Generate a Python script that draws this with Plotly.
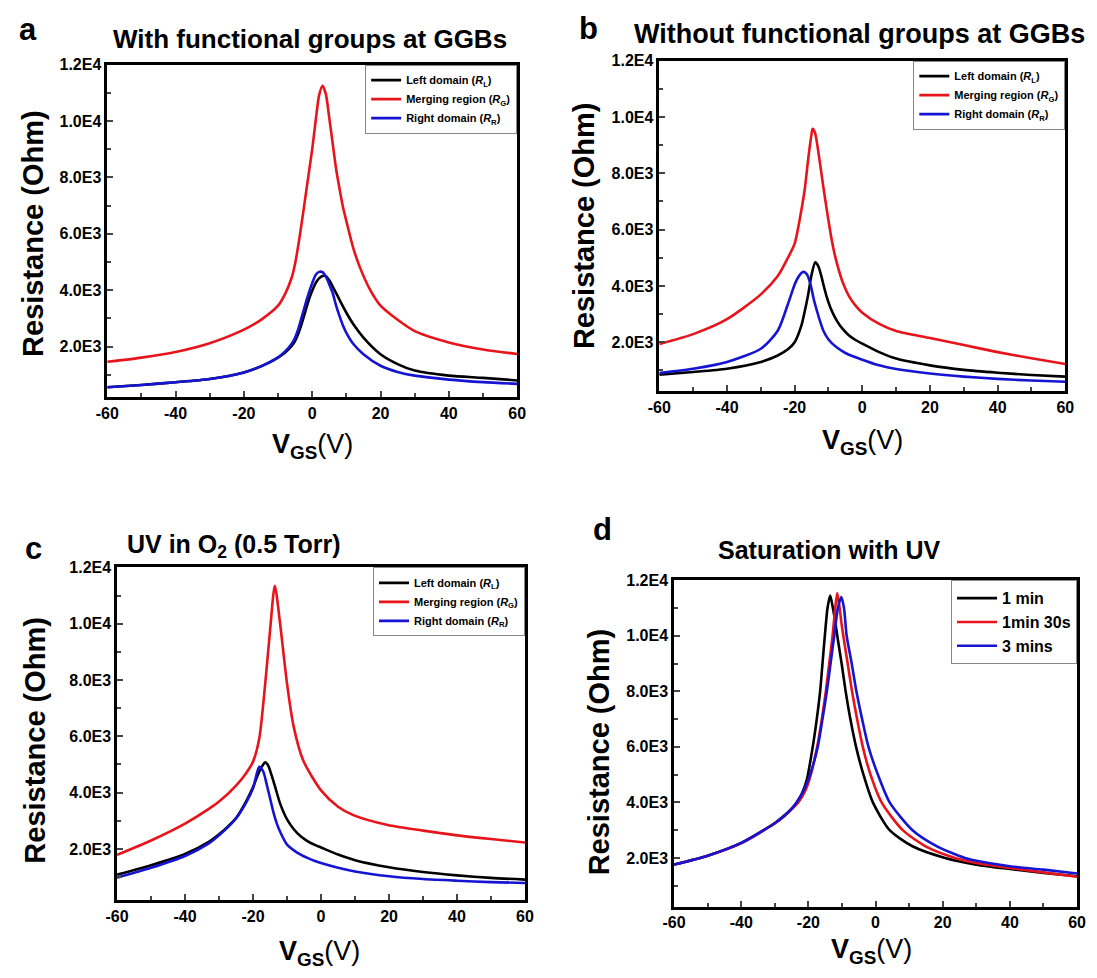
import plotly.graph_objects as go

# ---------------- data ----------------
# Panel a: With functional groups at GGBs
a_red_x = [-60, -50, -40, -30, -20, -15, -10, -8, -6, -5, -4, -3, -2, -1, 0, 1, 2, 3, 4, 5, 6, 7, 8, 9, 10, 12, 14, 17, 20, 25, 30, 40, 50, 60]
a_red_y = [1460, 1610, 1810, 2120, 2600, 2950, 3450, 3850, 4450, 4950, 5650, 6450, 7300, 8150, 9000, 10000, 10900, 11250, 10950, 10100, 9200, 8300, 7600, 6950, 6450, 5500, 4800, 4000, 3450, 2950, 2550, 2150, 1900, 1740]
a_blk_x = [-60, -50, -40, -30, -20, -15, -10, -8, -6, -5, -4, -3, -2, -1, 0, 1, 2, 3, 4, 5, 6, 7, 8, 9, 10, 12, 15, 20, 25, 30, 40, 50, 60]
a_blk_y = [560, 640, 735, 850, 1085, 1300, 1610, 1780, 2020, 2200, 2480, 2840, 3250, 3660, 3980, 4250, 4420, 4500, 4500, 4350, 4130, 3900, 3660, 3430, 3200, 2800, 2320, 1730, 1380, 1150, 970, 890, 800]
a_blu_x = [-60, -50, -40, -30, -20, -15, -10, -8, -6, -5, -4, -3, -2, -1, 0, 1, 2, 3, 4, 5, 6, 7, 8, 9, 10, 12, 15, 20, 25, 30, 40, 50, 60]
a_blu_y = [560, 640, 735, 850, 1085, 1300, 1620, 1820, 2100, 2320, 2650, 3080, 3500, 3900, 4250, 4540, 4650, 4640, 4480, 4200, 3900, 3450, 3080, 2750, 2490, 2100, 1730, 1320, 1100, 970, 830, 740, 680]

# Panel b: Without functional groups at GGBs
b_red_x = [-60, -50, -40, -30, -25, -22, -20, -18, -17, -16, -15, -14.7, -14, -13.5, -12.5, -11.5, -10.5, -9.5, -8.5, -7.5, -6.5, -5.5, -4, -2, 0, 5, 10, 20, 30, 40, 50, 60]
b_red_y = [1940, 2290, 2820, 3700, 4350, 5000, 5500, 6700, 7450, 8500, 9400, 9580, 9450, 9150, 8350, 7500, 6700, 5950, 5300, 4800, 4380, 4040, 3650, 3300, 3050, 2650, 2400, 2150, 1900, 1650, 1430, 1230]
b_blk_x = [-60, -50, -40, -30, -25, -22, -20, -18, -17, -16, -15, -13.9, -13, -12, -11.5, -10.5, -9.5, -8.5, -7.6, -6, -4, -2, 0, 5, 10, 20, 30, 40, 50, 60]
b_blk_y = [850, 945, 1060, 1300, 1530, 1750, 2000, 2600, 3110, 3700, 4400, 4840, 4700, 4300, 4050, 3600, 3250, 2980, 2780, 2500, 2250, 2080, 1950, 1650, 1420, 1180, 1020, 920, 840, 780]
b_blu_x = [-60, -50, -40, -30, -25, -22, -20, -19, -18, -17.3, -16.3, -15.3, -14.3, -13.4, -12.5, -11.5, -10, -7.6, -5, 0, 5, 10, 20, 30, 40, 50, 60]
b_blu_y = [910, 1060, 1300, 1770, 2410, 3350, 4050, 4300, 4460, 4500, 4400, 4050, 3500, 3110, 2750, 2410, 2100, 1820, 1620, 1380, 1180, 1050, 890, 780, 700, 640, 600]

# Panel c: UV in O2 (0.5 Torr)
c_red_x = [-60, -50, -40, -33, -30, -25, -22, -20, -18.2, -16.4, -15, -13.6, -12.1, -10.1, -8.1, -5.2, 0, 5, 9.5, 19.6, 30, 39.5, 50, 60]
c_red_y = [1790, 2300, 2900, 3420, 3680, 4250, 4700, 5100, 5900, 7900, 9750, 11350, 10060, 7960, 6370, 5130, 4080, 3500, 3200, 2850, 2650, 2490, 2350, 2230]
c_blk_x = [-60, -50, -40, -33, -30, -25, -22, -20, -18, -17, -16.4, -15.5, -14.5, -13.5, -12, -10, -8, -6, -4, -2, 0, 5, 10, 20, 30, 40, 50, 60]
c_blk_y = [1085, 1420, 1820, 2250, 2520, 3100, 3700, 4200, 4800, 5000, 5080, 4950, 4600, 4200, 3600, 3050, 2700, 2450, 2280, 2150, 2050, 1800, 1600, 1350, 1180, 1060, 970, 910]
c_blu_x = [-60, -50, -40, -33, -30, -25, -22, -20, -18.2, -17, -16, -15, -14, -13, -12, -10, -8, -6, -4, -2, 0, 5, 10, 20, 30, 40, 50, 60]
c_blu_y = [980, 1330, 1750, 2200, 2480, 3080, 3650, 4150, 4920, 4750, 4300, 3800, 3300, 2900, 2600, 2150, 1950, 1800, 1680, 1580, 1500, 1330, 1200, 1030, 930, 870, 820, 790]

# Panel d: Saturation with UV
d_k_x = [-60, -50, -40, -30, -27, -25, -23.5, -22, -20.5, -18.7, -17.5, -16.5, -15.8, -15.1, -14.3, -13.5, -12.7, -12, -11.4, -10.1, -8.9, -7.5, -5.8, -3.6, -0.8, 4.2, 11, 20.7, 30, 40, 50, 60]
d_k_y = [1760, 2080, 2540, 3260, 3550, 3780, 4000, 4300, 4800, 6000, 7000, 8000, 9000, 10000, 11000, 11450, 11000, 10500, 10000, 9000, 8000, 7000, 6000, 5000, 4000, 3000, 2420, 2000, 1760, 1600, 1460, 1340]
d_r_x = [-60, -50, -40, -30, -27, -25, -23, -21, -19.5, -17.4, -16, -14.8, -13.8, -12.8, -12, -11.4, -10.7, -10.2, -9.6, -8.3, -7, -5.5, -3.8, -1.5, 1.8, 8.1, 14.9, 23.7, 30, 40, 50, 60]
d_r_y = [1760, 2080, 2530, 3240, 3520, 3750, 4000, 4400, 4900, 6000, 7000, 8000, 9000, 10000, 11000, 11540, 11000, 10500, 10000, 9000, 8000, 7000, 6000, 5000, 4000, 3000, 2420, 2000, 1820, 1640, 1480, 1320]
d_b_x = [-60, -50, -40, -30, -27, -25, -23.5, -21.5, -19.5, -17.2, -15.8, -14.5, -13.4, -12.3, -11.2, -10.2, -9.4, -8.6, -7.1, -5.7, -4, -2.1, 0.7, 4.2, 11, 18.3, 26.6, 30, 40, 50, 60]
d_b_y = [1760, 2080, 2540, 3250, 3540, 3770, 4000, 4400, 5000, 6000, 7000, 8000, 9000, 10000, 11000, 11400, 11000, 10000, 9000, 8000, 7000, 6000, 5000, 4000, 3000, 2420, 2000, 1900, 1700, 1580, 1440]

x_tickvals = [-60, -40, -20, 0, 20, 40, 60]
x_ticktext = ["-60", "-40", "-20", "0", "20", "40", "60"]
y_tickvals = [2000, 4000, 6000, 8000, 10000, 12000]
y_ticktext = ["2.0E3", "4.0E3", "6.0E3", "8.0E3", "1.0E4", "1.2E4"]

names_abc = ["<b>Left domain (<i>R</i><sub>L</sub>)</b>",
             "<b>Merging region (<i>R</i><sub>G</sub>)</b>",
             "<b>Right domain (<i>R</i><sub>R</sub>)</b>"]
names_d = ["<b>1 min</b>", "<b>1min 30s</b>", "<b>3 mins</b>"]

BLACK, RED, BLUE = "#000000", "#e8141c", "#1414d2"
FONT = "Arial, Liberation Sans, sans-serif"

# figure sized to the window minus the page's default 8px body margin
W, H = 1081, 962
OX, OY = 8, 8

def px(xp):
    return (xp - OX) / W

def py(yp):
    return 1 - (yp - OY) / H

# panel boxes in window pixels: (left, right, top, bottom)
boxes = {
    1: (97, 515, 57, 392),
    2: (660, 1074, 53, 386),
    3: (107, 523, 564, 899),
    4: (675, 1086, 577, 906),
}
yranges = {1: [220, 12000], 2: [275, 12000], 3: [200, 12000], 4: [250, 12000]}

fig = go.Figure()

panels = {
    1: [(a_blk_x, a_blk_y, BLACK, names_abc[0]), (a_red_x, a_red_y, RED, names_abc[1]), (a_blu_x, a_blu_y, BLUE, names_abc[2])],
    2: [(b_blk_x, b_blk_y, BLACK, names_abc[0]), (b_red_x, b_red_y, RED, names_abc[1]), (b_blu_x, b_blu_y, BLUE, names_abc[2])],
    3: [(c_blk_x, c_blk_y, BLACK, names_abc[0]), (c_red_x, c_red_y, RED, names_abc[1]), (c_blu_x, c_blu_y, BLUE, names_abc[2])],
    4: [(d_k_x, d_k_y, BLACK, names_d[0]), (d_r_x, d_r_y, RED, names_d[1]), (d_b_x, d_b_y, BLUE, names_d[2])],
}

for i, traces in panels.items():
    xa = "x" if i == 1 else f"x{i}"
    ya = "y" if i == 1 else f"y{i}"
    lg = "legend" if i == 1 else f"legend{i}"
    for xs, ys, col, nm in traces:
        fig.add_trace(go.Scatter(x=xs, y=ys, mode="lines", name=nm,
                                 line=dict(color=col, width=2.6, shape="spline", smoothing=0.7),
                                 xaxis=xa, yaxis=ya, legend=lg))

layout = dict(width=W, height=H, margin=dict(l=0, r=0, t=0, b=0),
              paper_bgcolor="white", plot_bgcolor="white", showlegend=True,
              font=dict(family=FONT, color="black"))

for i, (l, r, t, b) in boxes.items():
    xk = "xaxis" if i == 1 else f"xaxis{i}"
    yk = "yaxis" if i == 1 else f"yaxis{i}"
    xa = "x" if i == 1 else f"x{i}"
    ya = "y" if i == 1 else f"y{i}"
    layout[xk] = dict(domain=[px(l), px(r)], anchor=ya, range=[-60, 60],
                      tickvals=x_tickvals, ticktext=x_ticktext, ticks="inside", ticklen=6, tickwidth=2,
                      minor=dict(dtick=10, tick0=0, ticks="inside", ticklen=4, tickwidth=2),
                      showline=True, linecolor="black", linewidth=2.5, mirror=True,
                      showgrid=False, zeroline=False,
                      tickfont=dict(family=FONT, size=16, color="black", weight="bold"))
    layout[yk] = dict(domain=[py(b), py(t)], anchor=xa, range=yranges[i],
                      tickvals=y_tickvals, ticktext=y_ticktext, ticks="inside", ticklen=6, tickwidth=2,
                      minor=dict(dtick=1000, tick0=0, ticks="inside", ticklen=4, tickwidth=2),
                      showline=True, linecolor="black", linewidth=2.5, mirror=True,
                      showgrid=False, zeroline=False,
                      tickfont=dict(family=FONT, size=16, color="black", weight="bold"))

# legends
leg_common = dict(bgcolor="white", bordercolor="#888888", borderwidth=1,
                  xanchor="right", yanchor="top", tracegroupgap=0)
layout["legend"] = dict(x=px(515), y=py(57), itemwidth=30, font=dict(family=FONT, size=11, color="black"), **leg_common)
layout["legend2"] = dict(x=px(1074), y=py(53), itemwidth=30, font=dict(family=FONT, size=11, color="black"), **leg_common)
layout["legend3"] = dict(x=px(523), y=py(564), itemwidth=30, font=dict(family=FONT, size=11, color="black"), **leg_common)
layout["legend4"] = dict(x=px(1086), y=py(577), itemwidth=40, font=dict(family=FONT, size=16, color="black"), **leg_common)

fig.update_layout(**layout)

ann = []
def text(x, y, s, size, bold=True, angle=0):
    ann.append(dict(x=px(x), y=py(y), xref="paper", yref="paper", text=(f"<b>{s}</b>" if bold else s),
                    showarrow=False, xanchor="center", yanchor="middle", textangle=angle,
                    font=dict(family=FONT, size=size, color="black")))

# panel letters
text(16, 22, "a", 31)
text(588, 21, "b", 31)
text(22, 545, "c", 31)
text(602, 526, "d", 31)
# titles
text(304, 31, "With functional groups at GGBs", 26)
text(864, 26, "Without functional groups at GGBs", 27)
text(226, 542, "UV in O<sub>2</sub> (0.5 Torr)", 25)
text(834, 546, "Saturation with UV", 25)
# y titles
text(21, 227, "Resistance (Ohm)", 29, angle=-90)
text(583, 219, "Resistance (Ohm)", 29, angle=-90)
text(23, 738, "Resistance (Ohm)", 29, angle=-90)
text(598, 750, "Resistance (Ohm)", 29, angle=-90)
# x titles
xt = "<b>V</b><sub><b>GS</b></sub>(V)"
text(306, 442, xt, 27, bold=False)
text(867, 438, xt, 27, bold=False)
text(313, 953, xt, 27, bold=False)
text(876, 951, xt, 27, bold=False)

fig.update_layout(annotations=ann)
fig.write_html("out.html")
